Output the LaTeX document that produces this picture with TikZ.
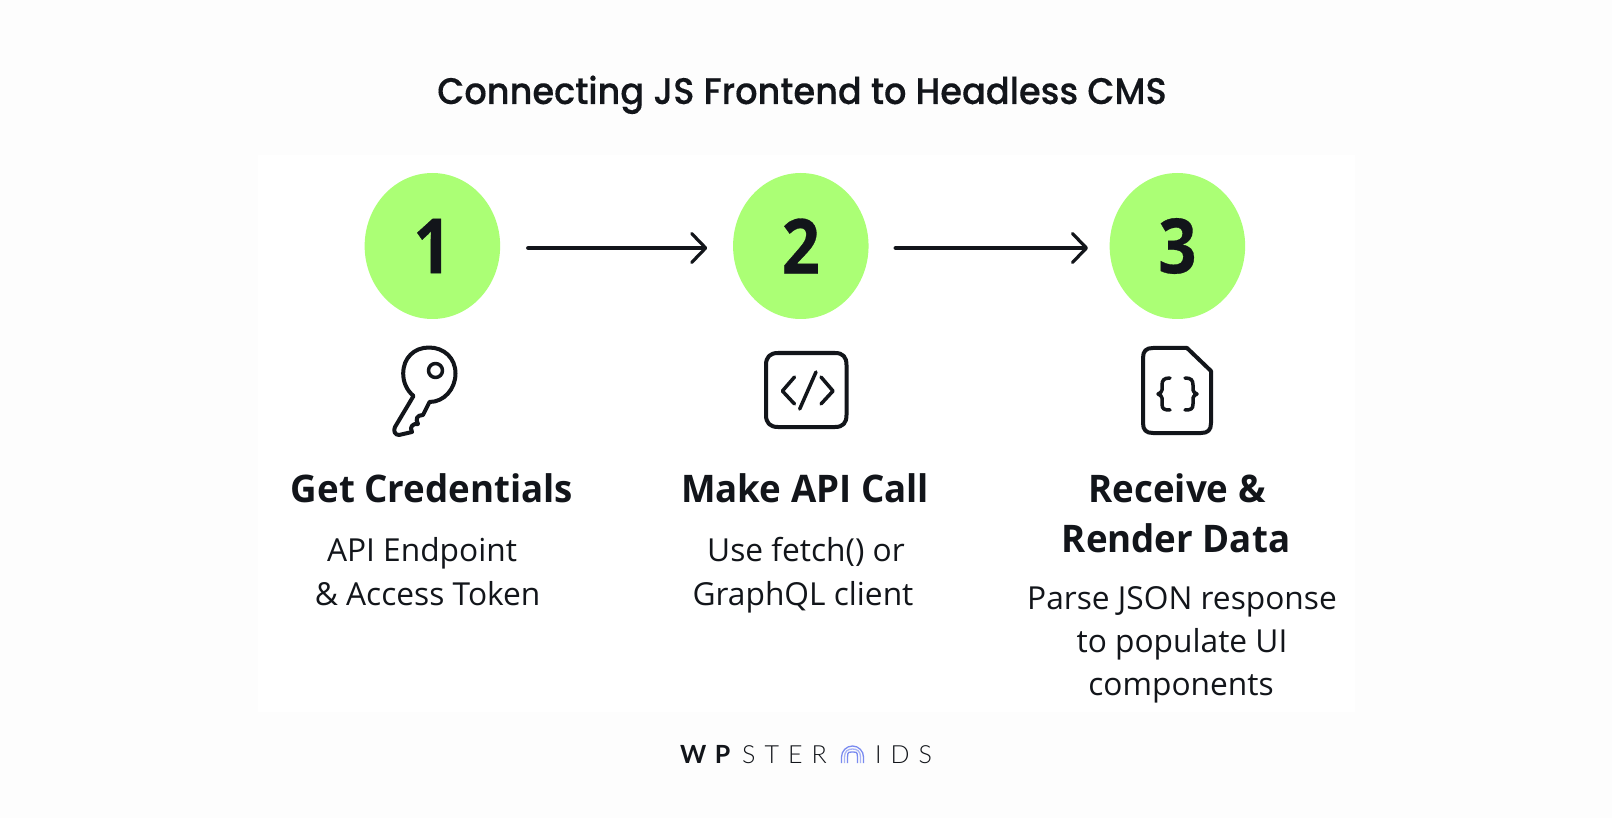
\documentclass[tikz,border=0pt]{standalone}
\usepackage{fontspec}
\usetikzlibrary{arrows.meta,shapes.geometric}
\setmainfont{Open Sans}
\newfontfamily\titlefont{Poppins}[UprightFont=* Medium,FakeStretch=0.95,FakeBold=0.25]
\newfontfamily\headfont{Open Sans}[UprightFont=* Bold,FakeStretch=0.965]
\newfontfamily\numfont{Open Sans}[UprightFont=* Bold,FakeStretch=0.88,FakeBold=0.4]
\newfontfamily\logolight{Lato}[UprightFont=* Light,LetterSpace=36]
\newfontfamily\logobold{Lato}[UprightFont=* Bold,LetterSpace=34]
\definecolor{ink}{HTML}{12151A}
\definecolor{lime}{HTML}{ABFF75}
\definecolor{pagebg}{HTML}{FDFDFD}
\definecolor{arcA}{HTML}{7A8BF0}
\definecolor{arcB}{HTML}{A9B4F5}
\tikzset{
  x=1pt,y=-1pt,
  txt/.style={inner sep=0pt,anchor=base,text=ink},
  titletxt/.style={txt,font=\titlefont\fontsize{37}{37}\selectfont},
  headtxt/.style={txt,font=\headfont\fontsize{38}{38}\selectfont},
  bodytxt/.style={txt,font=\fontsize{31.7}{31.7}\selectfont},
  logoL/.style={inner sep=0pt,anchor=base west,text=ink,font=\logolight\fontsize{25}{25}\selectfont},
  logoB/.style={inner sep=0pt,anchor=base west,text=ink,font=\logobold\fontsize{25}{25}\selectfont},
  stepdot/.style={ellipse,fill=lime,inner sep=0pt,minimum width=135.5pt,minimum height=146pt,text=ink,font=\numfont\fontsize{76}{76}\selectfont},
  flow/.style={line width=4.5pt,line cap=round,ink,-{Straight Barb[length=14pt,width=29pt,line width=3.2pt,round]}},
  icon/.style={line width=4pt,ink,line join=round,line cap=round},
  iconthin/.style={line width=3.5pt,ink,line join=round,line cap=round},
}
\begin{document}
\begin{tikzpicture}
\useasboundingbox (0,0) rectangle (1612,818);
\fill[pagebg] (0,0) rectangle (1612,818);
\fill[white] (258,155) rectangle (1355,712);
\node[titletxt] (title) at (802,104) {Connecting JS Frontend to Headless CMS};
\node[stepdot] (c1) at (432.4,246) {1};
\node[stepdot] (c2) at (800.8,246) {2};
\node[stepdot] (c3) at (1177.4,246) {3};
\draw[flow] ([xshift=28pt,yshift=-2pt]c1.east) -- ([xshift=-25.6pt,yshift=-2pt]c2.west);
\draw[flow] ([xshift=27pt,yshift=-2pt]c2.east) -- ([xshift=-21.4pt,yshift=-2pt]c3.west);
% key
\draw[icon] (413.5,396) .. controls (406.5,390) and (403.2,382) .. (403.2,373.5)
  .. controls (403.2,358) and (414,347.5) .. (429,347.5)
  .. controls (444,347.5) and (455.5,358) .. (455.5,373.5)
  .. controls (455.5,389) and (444,402) .. (429.5,402)
  -- (423,415) .. controls (417,415) and (415,419) .. (418,424)
  .. controls (413,423) and (409,427) .. (412,432)
  -- (399,435) .. controls (395,435) and (393,431) .. (395,427) -- cycle;
\draw[iconthin] (435.5,370.5) circle[radius=7];
% code
\draw[icon] (778,353) -- (835,353) .. controls (843,353) and (846.5,357) .. (846.5,365)
  -- (846.5,415) .. controls (846.5,423) and (843,427) .. (835,427)
  -- (778,427) .. controls (770,427) and (766,423) .. (766,415)
  -- (766,365) .. controls (766,357) and (770,353) .. (778,353) -- cycle;
\draw[iconthin] (794.5,377) -- (782.4,391) -- (794.5,404);
\draw[iconthin] (821,377) -- (833,391) -- (821,404);
\draw[iconthin] (816,372) -- (799.7,409);
% doc
\draw[icon] (1153,348) -- (1187,348) -- (1211,371) -- (1211,423)
  .. controls (1211,430) and (1208,433) .. (1201,433) -- (1153,433)
  .. controls (1146,433) and (1143,430) .. (1143,423) -- (1143,358)
  .. controls (1143,351) and (1146,348) .. (1153,348) -- cycle;
\draw[iconthin] (1170,378) .. controls (1164,378) and (1162,380) .. (1162,385) -- (1162,390)
  .. controls (1162,392) and (1160,393) .. (1158,394)
  .. controls (1160,395) and (1162,396) .. (1162,398) -- (1162,404)
  .. controls (1162,409) and (1164,410) .. (1170,410);
\draw[iconthin] (1185,378) .. controls (1191,378) and (1193,380) .. (1193,385) -- (1193,390)
  .. controls (1193,392) and (1195,393) .. (1197,394)
  .. controls (1195,395) and (1193,396) .. (1193,398) -- (1193,404)
  .. controls (1193,409) and (1191,410) .. (1185,410);
% texts
\node[headtxt] (h1) at (432,502) {Get Credentials};
\node[bodytxt] (b1a) at (422,561) {API Endpoint};
\node[bodytxt] (b1b) at (427.6,605) {\& Access Token};
\node[headtxt] (h2) at (805,502) {Make API Call};
\node[bodytxt] (b2a) at (806,561) {Use fetch() or};
\node[bodytxt] (b2b) at (803,605) {GraphQL client};
\node[headtxt] (h3a) at (1177,502) {Receive \&};
\node[headtxt] (h3b) at (1176,552) {Render Data};
\node[bodytxt] (b3a) at (1182,609) {Parse JSON response};
\node[bodytxt] (b3b) at (1182,652) {to populate UI};
\node[bodytxt] (b3c) at (1181,695) {components};
% logo
\node[logoB] (lgA) at (680,763) {WP};
\node[logoL] (lgB) at (742,763) {STER};
\node[logoL] (lgC) at (875,763) {IDS};
\foreach \r/\c in {11/arcA,8/arcB,5/arcA}{
  \draw[\c,line width=1.3pt] (852.5-\r,763) -- (852.5-\r,757) .. controls (852.5-\r,751) and (852.5-\r*.55,746+11-\r) .. (852.5,746+11-\r)
   .. controls (852.5+\r*.55,746+11-\r) and (852.5+\r,751) .. (852.5+\r,757) -- (852.5+\r,763);
}
\end{tikzpicture}
\end{document}
